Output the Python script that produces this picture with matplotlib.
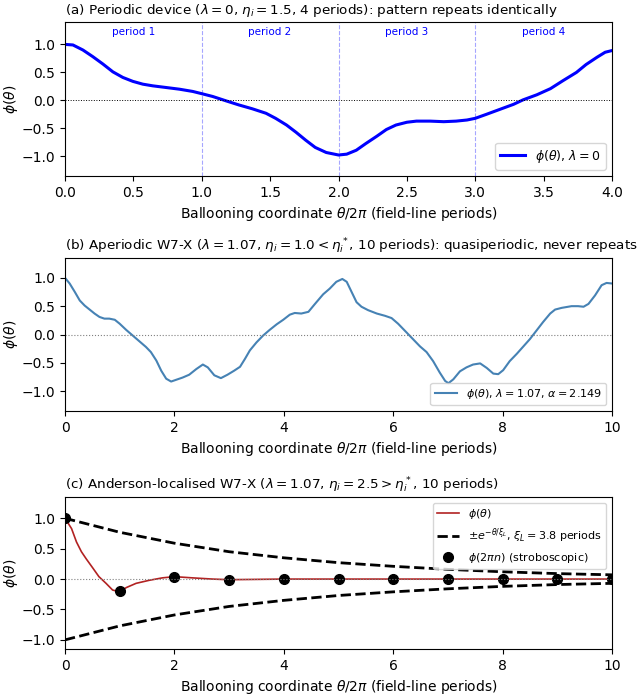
import numpy as np
import matplotlib.pyplot as plt

# (a) periodic device, lambda = 0
xa = [0.0, 0.058, 0.131, 0.204, 0.277, 0.35, 0.423, 0.496, 0.569, 0.642, 0.74,
      0.837, 0.934, 1.0, 1.08, 1.18, 1.27, 1.37, 1.47, 1.54, 1.62, 1.69, 1.76,
      1.83, 1.91, 2.0, 2.06, 2.13, 2.2, 2.28, 2.35, 2.42, 2.5, 2.57, 2.67, 2.77,
      2.86, 2.94, 3.0, 3.08, 3.18, 3.28, 3.35, 3.45, 3.55, 3.64, 3.74, 3.81,
      3.89, 3.95, 4.0]
ya = [1.0, 0.99, 0.9, 0.78, 0.65, 0.51, 0.41, 0.34, 0.29, 0.26, 0.23, 0.2,
      0.16, 0.12, 0.07, -0.01, -0.08, -0.15, -0.23, -0.32, -0.44, -0.57, -0.71,
      -0.84, -0.93, -0.975, -0.96, -0.89, -0.77, -0.64, -0.52, -0.44, -0.39,
      -0.37, -0.37, -0.38, -0.37, -0.35, -0.32, -0.25, -0.16, -0.07, 0.01, 0.1,
      0.21, 0.35, 0.5, 0.64, 0.77, 0.86, 0.89]
period_labels = ['period 1', 'period 2', 'period 3', 'period 4']

# (b) aperiodic W7-X, lambda = 1.07
xb = [0.0, 0.085, 0.18, 0.27, 0.36, 0.45, 0.54, 0.63, 0.72, 0.81, 0.91, 1.0,
      1.12, 1.24, 1.36, 1.48, 1.57, 1.67, 1.76, 1.85, 1.94, 2.03, 2.15, 2.27,
      2.4, 2.52, 2.61, 2.73, 2.85, 2.97, 3.09, 3.2, 3.29, 3.38, 3.5, 3.62,
      3.74, 3.87, 3.99, 4.11, 4.2, 4.32, 4.45, 4.57, 4.72, 4.84, 4.96, 5.07,
      5.15, 5.24, 5.33, 5.42, 5.54, 5.7, 5.85, 5.97, 6.09, 6.21, 6.34, 6.49,
      6.61, 6.73, 6.85, 6.95, 7.01, 7.1, 7.22, 7.34, 7.46, 7.59, 7.71, 7.83,
      7.92, 8.01, 8.13, 8.26, 8.38, 8.5, 8.62, 8.74, 8.87, 8.96, 9.08, 9.26,
      9.38, 9.48, 9.57, 9.69, 9.81, 9.9, 10.0]
yb = [1.0, 0.9, 0.75, 0.6, 0.51, 0.44, 0.37, 0.31, 0.28, 0.28, 0.26, 0.19,
      0.08, -0.02, -0.12, -0.22, -0.31, -0.46, -0.64, -0.78, -0.83, -0.8,
      -0.76, -0.71, -0.61, -0.53, -0.58, -0.72, -0.77, -0.71, -0.64, -0.57,
      -0.43, -0.28, -0.14, -0.02, 0.08, 0.18, 0.26, 0.35, 0.38, 0.37, 0.4,
      0.54, 0.71, 0.81, 0.93, 0.98, 0.93, 0.75, 0.57, 0.49, 0.43, 0.37, 0.33,
      0.29, 0.19, 0.07, -0.06, -0.21, -0.31, -0.47, -0.67, -0.82, -0.86,
      -0.79, -0.65, -0.58, -0.53, -0.51, -0.59, -0.69, -0.7, -0.63, -0.47,
      -0.34, -0.21, -0.08, 0.07, 0.22, 0.37, 0.44, 0.47, 0.5, 0.5, 0.49, 0.54,
      0.69, 0.87, 0.91, 0.9]

# (c) Anderson-localised W7-X
xc = [0.0, 0.12, 0.21, 0.3, 0.39, 0.51, 0.62, 0.75, 0.87, 1.0, 1.12, 1.3,
      1.54, 1.78, 2.0, 2.33, 2.7, 3.0, 4.0, 5.0, 6.0, 7.0, 8.0, 9.0, 10.0]
yc = [1.0, 0.83, 0.61, 0.45, 0.33, 0.18, 0.04, -0.07, -0.18, -0.21, -0.14,
      -0.07, -0.02, 0.02, 0.04, 0.02, 0.0, -0.01, 0.0, 0.0, 0.0, 0.0, 0.0,
      0.0, 0.0]
n_strobe = [0, 1, 2, 3, 4, 5, 6, 7, 8, 9, 10]
phi_strobe = [1.0, -0.2, 0.04, -0.01, 0.0, 0.0, 0.0, 0.0, 0.0, 0.0, 0.0]
envelope = [1.0, 0.77, 0.59, 0.45, 0.35, 0.27, 0.21, 0.16, 0.12, 0.09, 0.07]

fig = plt.figure(figsize=(6.39, 6.98), dpi=100)
W, H = 639, 698
L, R = 65, 612


def make_ax(top, bottom):
    return fig.add_axes([L / W, 1 - bottom / H, (R - L) / W, (bottom - top) / H])


xlabel = r'Ballooning coordinate $\theta/2\pi$ (field-line periods)'
yticks = [-1.0, -0.5, 0.0, 0.5, 1.0]

ax1 = make_ax(22, 176)
ax1.plot(xa, ya, color='blue', lw=2.2, label=r'$\phi(\theta)$, $\lambda=0$')
ax1.axhline(0, color='k', ls=':', lw=0.7)
for k in range(1, 4):
    ax1.axvline(k, color='blue', ls='--', lw=0.8, alpha=0.35)
for k, lab in enumerate(period_labels):
    ax1.text(k + 0.5, 1.23, lab, color='blue', fontsize=7.5, ha='center', va='center')
ax1.set_xlim(0, 4)
ax1.set_ylim(-1.35, 1.4)
ax1.set_yticks(yticks)
ax1.set_ylabel(r'$\phi(\theta)$', labelpad=1)
ax1.set_xlabel(xlabel)
ax1.set_title(r'(a) Periodic device ($\lambda=0$, $\eta_i=1.5$, 4 periods): pattern repeats identically',
              loc='left', fontsize=9.7)
ax1.legend(loc='lower right', fontsize=9)

ax2 = make_ax(258, 411)
ax2.plot(xb, yb, color='steelblue', lw=1.5,
         label=r'$\phi(\theta)$, $\lambda=1.07$, $\alpha=2.149$')
ax2.axhline(0, color='gray', ls=':', lw=0.8)
ax2.set_xlim(0, 10)
ax2.set_ylim(-1.35, 1.35)
ax2.set_yticks(yticks)
ax2.set_ylabel(r'$\phi(\theta)$', labelpad=1)
ax2.set_xlabel(xlabel)
ax2.set_title(r'(b) Aperiodic W7-X ($\lambda=1.07$, $\eta_i=1.0<\eta_i^*$, 10 periods): quasiperiodic, never repeats',
              loc='left', fontsize=9.7)
ax2.legend(loc='lower right', fontsize=8)

ax3 = make_ax(497, 649)
ax3.plot(xc, yc, color='#b22222', lw=1.2, label=r'$\phi(\theta)$')
ax3.plot(n_strobe, envelope, 'k--', lw=2, label=r'$\pm e^{-\theta/\xi_L}$, $\xi_L=3.8$ periods')
ax3.plot(n_strobe, [-e for e in envelope], 'k--', lw=2)
ax3.plot(n_strobe, phi_strobe, 'ko', ms=7, ls='none', label=r'$\phi(2\pi n)$ (stroboscopic)')
ax3.axhline(0, color='gray', ls=':', lw=0.8)
ax3.set_xlim(0, 10)
ax3.set_ylim(-1.15, 1.35)
ax3.set_yticks(yticks)
ax3.set_ylabel(r'$\phi(\theta)$', labelpad=1)
ax3.set_xlabel(xlabel)
ax3.set_title(r'(c) Anderson-localised W7-X ($\lambda=1.07$, $\eta_i=2.5>\eta_i^*$, 10 periods)',
              loc='left', fontsize=9.7)
ax3.legend(loc='upper right', fontsize=8)

fig.savefig('out.png', dpi=100)
